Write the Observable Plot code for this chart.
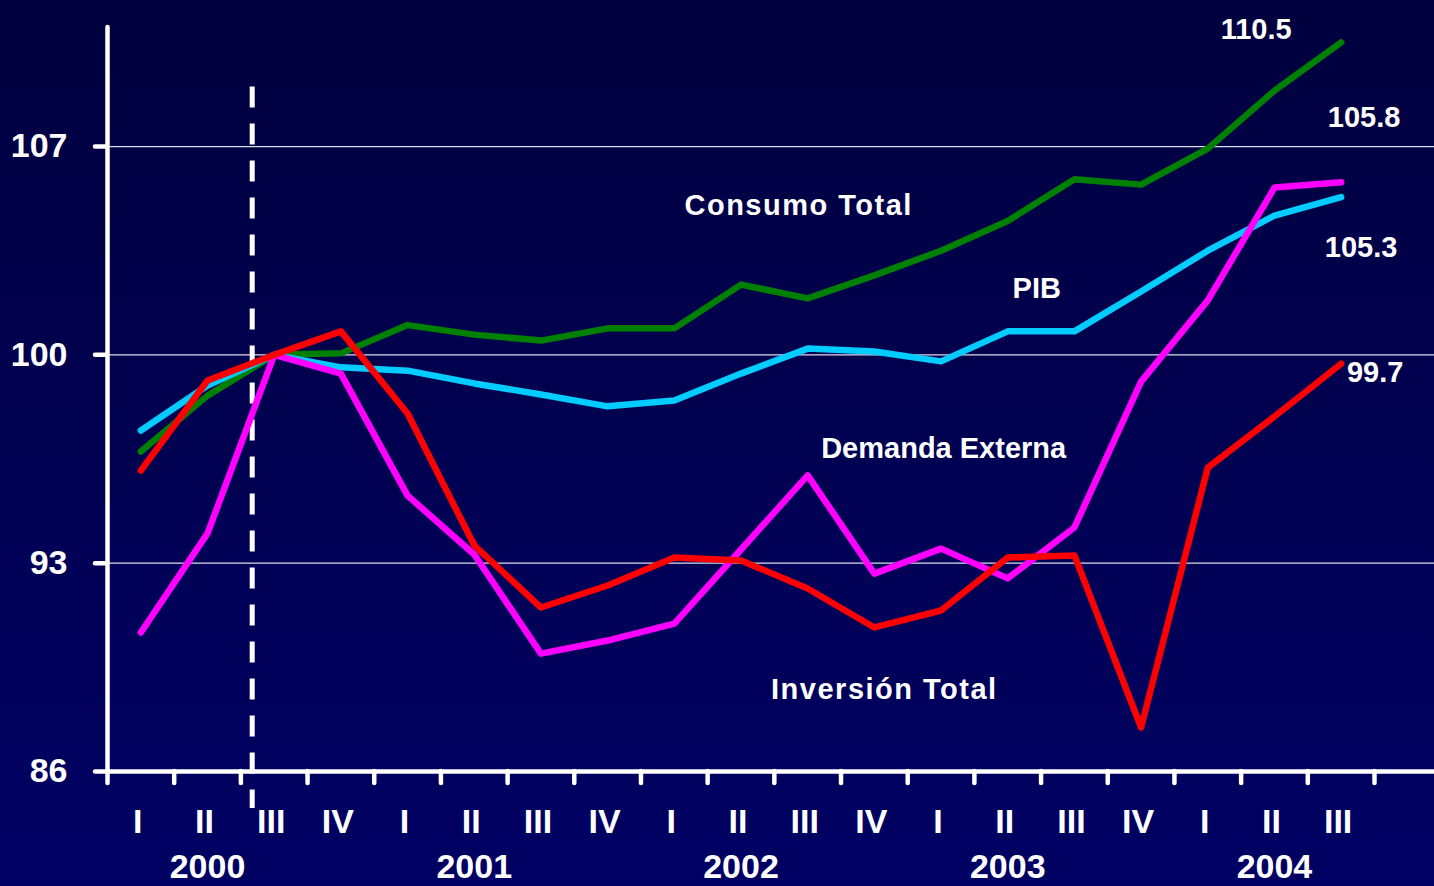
<!DOCTYPE html>
<html><head><meta charset="utf-8">
<script src="https://cdn.jsdelivr.net/npm/d3@7"></script>
<script src="https://cdn.jsdelivr.net/npm/@observablehq/plot@0.6"></script>
<style>
html,body{margin:0;padding:0;width:1434px;height:886px;overflow:hidden;background:linear-gradient(#00003e,#000064);}
#chart svg{display:block;background:transparent;}
</style></head><body><div id="chart"></div>
<script>
// Quarter tick labels (2000 I .. 2004 III) and years
const quarters = ["I","II","III","IV","I","II","III","IV","I","II","III","IV","I","II","III","IV","I","II","III"];
const years = ["2000","2001","2002","2003","2004"];
const yTicks = [86, 93, 100, 107];

// Index series (2000 III = 100)
const consumo   = [96.75, 98.63, 100.0, 100.05, 101.0, 100.68, 100.48, 100.89, 100.89, 102.36, 101.9, 102.67, 103.5, 104.5, 105.9, 105.72, 106.93, 108.88, 110.5];
const pib       = [97.46, 98.97, 100.0, 99.58, 99.47, 99.04, 98.67, 98.27, 98.47, 99.37, 100.21, 100.11, 99.78, 100.79, 100.79, 102.13, 103.5, 104.68, 105.3];
const demanda   = [90.67, 94.0, 100.0, 99.37, 95.27, 93.29, 89.96, 90.4, 90.97, 93.46, 95.95, 92.65, 93.49, 92.49, 94.2, 99.1, 101.83, 105.62, 105.8];
const inversion = [96.11, 99.14, 100.0, 100.79, 98.03, 93.6, 91.51, 92.25, 93.19, 93.09, 92.15, 90.84, 91.41, 93.19, 93.26, 87.48, 96.21, 97.93, 99.7];

const seriesNames = ["Consumo Total", "PIB", "Demanda Externa", "Inversión Total"];
const seriesColors = ["#008000", "#00ccff", "#ff00ff", "#ff0000"];
const baseMarker = 2.17; // dashed reference (in quarter units)

const toRows = (arr) => arr.map((v, i) => ({x: i + 0.5, v}));
const last = (arr) => ({x: arr.length - 0.5, v: arr[arr.length - 1]});
const at = (arr, i) => ({x: i + 0.5, v: arr[i]});

const W = "white";
const font = "'Liberation Sans', Arial, Helvetica, sans-serif";
const lineOpts = {x: "x", y: "v", strokeWidth: 6.5, strokeLinecap: "round", strokeLinejoin: "round"};
const lab = {x: "x", y: "v", fill: W, fontSize: 29, fontWeight: "bold"};
const fmt = d => d3.format(".1f")(d.v);

const chart = Plot.plot({
  width: 1434,
  height: 886,
  marginLeft: 107,
  marginRight: 0,
  marginTop: 27,
  marginBottom: 115,
  style: {fontFamily: font, background: "transparent", color: W},
  x: {domain: [0, 19.9], axis: null},
  y: {domain: [86, 111], axis: null},
  marks: [
    // gridlines
    Plot.ruleY([93, 100, 107], {stroke: "#dcdcec", strokeWidth: 1.2}),
    // y axis ticks + labels
    Plot.axisY({ticks: yTicks, tickSize: 12, tickPadding: 28, strokeWidth: 4.5, strokeLinecap: "round",
      color: W, fontSize: 34, fontWeight: "bold", label: null}),
    // x axis ticks
    Plot.axisX({ticks: d3.range(20), tickSize: 12, strokeWidth: 4.5, strokeLinecap: "round",
      color: W, tickFormat: () => "", label: null}),
    // axis lines
    Plot.ruleX([0], {stroke: W, strokeWidth: 4.5, strokeLinecap: "round"}),
    Plot.ruleY([86], {stroke: W, strokeWidth: 4.5}),
    // dashed marker
    Plot.ruleX([baseMarker], {y1: 109, y2: 84.76, stroke: W, strokeWidth: 5, strokeDasharray: "21,16"}),
    // series lines
    Plot.line(toRows(consumo), {...lineOpts, stroke: seriesColors[0]}),
    Plot.line(toRows(pib), {...lineOpts, stroke: seriesColors[1]}),
    Plot.line(toRows(demanda), {...lineOpts, stroke: seriesColors[2]}),
    Plot.line(toRows(inversion), {...lineOpts, stroke: seriesColors[3]}),
    // quarter and year labels
    Plot.text(quarters, {x: (d, i) => i + 0.5, y: () => 86, text: d => d, dy: 51, dx: -3,
      fill: W, fontSize: 34, fontWeight: "bold"}),
    Plot.text(years, {x: (d, i) => 4 * i + 1.5, y: () => 86, text: d => d, dy: 96,
      fill: W, fontSize: 34, fontWeight: "bold"}),
    // series names
    Plot.text([at(consumo, 10)], {...lab, text: () => seriesNames[0], dx: -9, dy: -93}),
    Plot.text([at(pib, 13)], {...lab, text: () => seriesNames[1], dx: 29, dy: -43}),
    Plot.text([at(demanda, 10)], {...lab, text: () => seriesNames[2], dx: 136, dy: -27}),
    Plot.text([at(inversion, 11)], {...lab, text: () => seriesNames[3], dx: 10, dy: 62}),
    // end values
    Plot.text([last(consumo)], {...lab, text: fmt, dx: -85, dy: -13}),
    Plot.text([last(demanda)], {...lab, text: fmt, dx: 23, dy: -65}),
    Plot.text([last(pib)], {...lab, text: fmt, dx: 20, dy: 51}),
    Plot.text([last(inversion)], {...lab, text: fmt, dx: 34, dy: 9})
  ]
});
document.getElementById("chart").appendChild(chart);
// slight letter spacing for two annotations as in the original
d3.select(chart).selectAll("text").each(function() {
  const t = this.textContent;
  if (t === seriesNames[0] || t === seriesNames[3]) this.setAttribute("letter-spacing", "1.5");
});
</script>
</body></html>
